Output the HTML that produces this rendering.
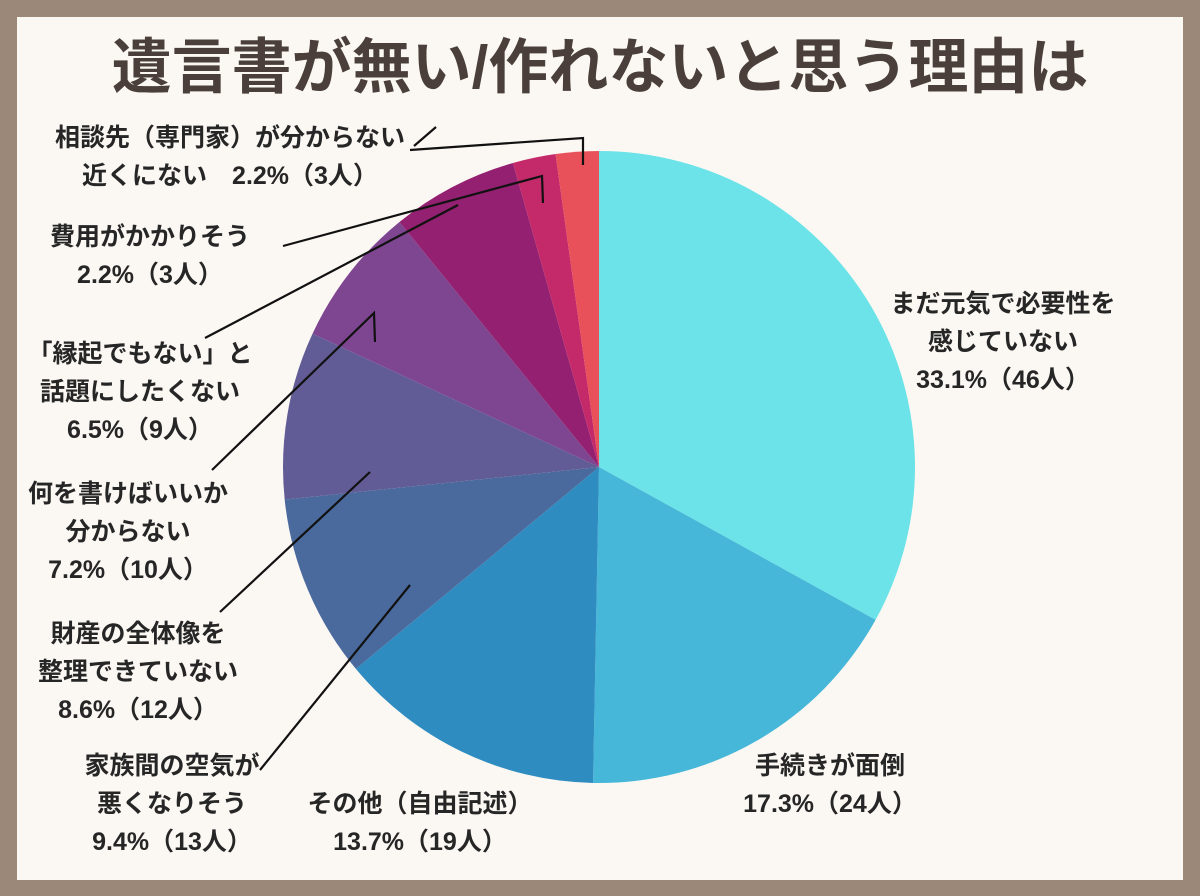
<!DOCTYPE html>
<html><head><meta charset="utf-8">
<style>
html,body{margin:0;padding:0;}
body{width:1200px;height:896px;background:#9c8878;position:relative;overflow:hidden;font-family:"Liberation Sans","Noto Sans CJK JP",sans-serif;}
#panel{position:absolute;left:17px;top:17px;width:1166px;height:863px;background:#fbf8f3;}
svg{position:absolute;left:0;top:0;}
.lbl{font-weight:700;font-size:25px;fill:#262626;}
</style></head>
<body>
<div id="panel"></div>
<svg id="chart" width="1200" height="896">
<text x="600" y="88" text-anchor="middle" font-size="60" font-weight="700" fill="#4a3f3a">遺言書が無い/作れないと思う理由は</text>
<g id="slices"></g>
<g id="leaders" stroke="#111" stroke-width="2.2" fill="none">
<polyline points="410,150 583,138 583,165"/>
<line x1="414" y1="146" x2="436" y2="127"/>
<polyline points="283,246 542,176 543,203"/>
<line x1="205" y1="338" x2="458" y2="205"/>
<polyline points="212,470 374,313 375,342"/>
<line x1="220" y1="612" x2="370" y2="472"/>
<line x1="260" y1="770" x2="410" y2="585"/>
</g>
<g id="labels"></g>
</svg>
<script>
const categories=["まだ元気で必要性を感じていない","手続きが面倒","その他（自由記述）","家族間の空気が悪くなりそう","財産の全体像を整理できていない","何を書けばいいか分からない","「縁起でもない」と話題にしたくない","費用がかかりそう","相談先（専門家）が分からない近くにない"];
const values=[33.1,17.3,13.7,9.4,8.6,7.2,6.5,2.2,2.2];
const counts=[46,24,19,13,12,10,9,3,3];
const colors=["#6ce3e8","#46b7d8","#2e8cc0","#4a6a9e","#625c96","#7e4690","#932070","#c42a6a","#e8505a"];
const labelLines=[
 {x:1003,y:312,a:"middle",t:["まだ元気で必要性を","感じていない","%"]},
 {x:830,y:774,a:"middle",t:["手続きが面倒","%"]},
 {x:420,y:812,a:"middle",t:["その他（自由記述）","%"]},
 {x:172,y:774,a:"middle",t:["家族間の空気が","悪くなりそう","%"]},
 {x:138,y:642,a:"middle",t:["財産の全体像を","整理できていない","%"]},
 {x:128,y:502,a:"middle",t:["何を書けばいいか","分からない","%"]},
 {x:140,y:362,a:"middle",t:["「縁起でもない」と","話題にしたくない","%"]},
 {x:150,y:245,a:"middle",t:["費用がかかりそう","%"]},
 {x:230,y:146,a:"middle",t:["相談先（専門家）が分からない","近くにない　%"]}
];
const cx=599,cy=467,r=316;
const NS="http://www.w3.org/2000/svg";
const total=values.reduce((a,b)=>a+b,0);
function pt(frac){const a=frac*2*Math.PI;return [cx+r*Math.sin(a),cy-r*Math.cos(a)];}
const g=document.getElementById('slices');
let acc=0;
values.forEach((v,i)=>{
 const s=acc/total,e=(acc+v)/total;acc+=v;
 const p0=pt(s),p1=pt(e);
 const large=(e-s)>0.5?1:0;
 const p=document.createElementNS(NS,'path');
 p.setAttribute('d',`M${cx},${cy}L${p0[0]},${p0[1]}A${r},${r} 0 ${large} 1 ${p1[0]},${p1[1]}Z`);
 p.setAttribute('fill',colors[i]);
 
 
 g.appendChild(p);
});
const lg=document.getElementById('labels');
labelLines.forEach((L,i)=>{
 const t=document.createElementNS(NS,'text');
 t.setAttribute('class','lbl');
 t.setAttribute('text-anchor',L.a);
 
 
 L.t.forEach((line,k)=>{
  const ts=document.createElementNS(NS,'tspan');
  ts.setAttribute('x',L.x);ts.setAttribute('y',L.y+k*38);
  ts.textContent=line.replace('%',values[i].toFixed(1)+'%（'+counts[i]+'人）');
  t.appendChild(ts);
 });
 lg.appendChild(t);
});
</script>
</body></html>
